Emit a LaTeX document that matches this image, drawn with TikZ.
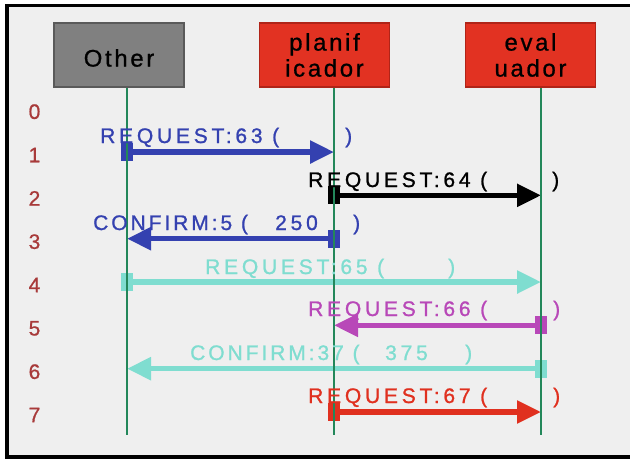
\documentclass[tikz,border=0pt]{standalone}
\usepackage{fontspec}
\setmainfont{Liberation Sans}
\usetikzlibrary{arrows.meta}

\definecolor{panelbg}{HTML}{EFEFEF}
\definecolor{lifegreen}{HTML}{23875A}
\definecolor{msgblue}{HTML}{3441B0}
\definecolor{msgcyan}{HTML}{7FDDD0}
\definecolor{msgpurple}{HTML}{B848B8}
\definecolor{msgred}{HTML}{E0301F}
\definecolor{boxred}{HTML}{E23222}
\definecolor{boxredline}{HTML}{B02418}
\definecolor{boxgray}{HTML}{808080}
\definecolor{boxgrayline}{HTML}{5A5A5A}
\definecolor{rowred}{HTML}{A83A3A}

\begin{document}
\begin{tikzpicture}[x=1pt,y=-1pt,
  agent/.style={minimum width=130pt, minimum height=64pt, inner sep=0pt,
    line width=1.5pt, align=center,
    font=\fontsize{24}{26}\selectfont\addfontfeature{LetterSpace=11,FakeBold=0.8}},
  lifeline/.style={lifegreen, line width=2pt},
  msg/.style={line width=5.5pt, -{Triangle[length=24pt,width=22pt]}},
  startsq/.style={minimum width=12pt, minimum height=18pt, inner sep=0pt, draw=none},
  msgtext/.style={anchor=base west, inner sep=0pt,
    font=\fontsize{21}{21}\selectfont\addfontfeature{LetterSpace=18,FakeBold=1}},
  conftext/.style={anchor=base west, inner sep=0pt,
    font=\fontsize{21}{21}\selectfont\addfontfeature{LetterSpace=14,FakeBold=1}},
  rownum/.style={text=rowred, inner sep=0pt,
    font=\fontsize{21}{21}\selectfont\addfontfeature{FakeBold=0.8}}]

% canvas and frame
\useasboundingbox (0,0) rectangle (630,460);
\fill[white] (0,0) rectangle (630,460);
\fill[panelbg] (7,5.5) rectangle (640,457);
\draw[line width=3.5pt] (640,5.5) -- (7,5.5) -- (7,457) -- (640,457);

% agents
\node[agent, fill=boxgray, draw=boxgrayline] (other) at (119,55)
  {\raisebox{-3pt}[\height][\depth]{Other}};
\node[agent, fill=boxred, draw=boxredline] (planif) at (324.5,55) {planif\\icador};
\node[agent, fill=boxred, draw=boxredline] (eval) at (530.5,55) {eval\\uador};

% lifeline anchors, one per time step
\coordinate (Otop) at (127,88);  \coordinate (Obot) at (127,435);
\coordinate (Ptop) at (334,88);  \coordinate (Pbot) at (334,435);
\coordinate (Etop) at (541,88);  \coordinate (Ebot) at (541,435);
\foreach \k in {1,...,7} {
  \pgfmathsetmacro\yy{108.7+43.33*\k}
  \coordinate (O\k) at (127,\yy);
  \coordinate (P\k) at (334,\yy);
  \coordinate (E\k) at (541,\yy);
}

% time steps
\foreach \k in {0,...,7} {
  \pgfmathsetmacro\yy{111.7+43.33*\k}
  \node[rownum] (row\k) at (34.5,\yy) {\k};
}

% messages
\draw[msg, msgblue] (O1) -- (P1);
\node[startsq, fill=msgblue] (s1) at (O1) {};
\draw[msg, black] (P2) -- (E2);
\node[startsq, fill=black] (s2) at (P2) {};
\draw[msg, msgblue] (P3) -- (O3);
\node[startsq, fill=msgblue] (s3) at (P3) {};
\draw[msg, msgcyan] (O4) -- (E4);
\node[startsq, fill=msgcyan] (s4) at (O4) {};
\draw[msg, msgpurple] (E5) -- (P5);
\node[startsq, fill=msgpurple] (s5) at (E5) {};
\draw[msg, msgcyan] (E6) -- (O6);
\node[startsq, fill=msgcyan] (s6) at (E6) {};
\draw[msg, msgred] (P7) -- (E7);
\node[startsq, fill=msgred] (s7) at (P7) {};

% lifelines over the messages
\draw[lifeline] (Otop) -- (Obot);
\draw[lifeline] (Ptop) -- (Pbot);
\draw[lifeline] (Etop) -- (Ebot);

% message labels
\node[msgtext, text=msgblue] (l1) at (100,143) {REQUEST:63 (};
\node[msgtext, text=msgblue] (l1c) at (345,143) {)};
\node[msgtext, text=black] (l2) at (308,187) {REQUEST:64 (};
\node[msgtext, text=black] (l2c) at (552,187) {)};
\node[conftext, text=msgblue] (l3) at (93,230) {CONFIRM:5 (};
\node[msgtext, text=msgblue] (l3v) at (275,230) {250};
\node[msgtext, text=msgblue] (l3c) at (353,230) {)};
\node[msgtext, text=msgcyan] (l4) at (205,274) {REQUEST:65 (};
\node[msgtext, text=msgcyan] (l4c) at (448,274) {)};
\node[msgtext, text=msgpurple] (l5) at (308,316) {REQUEST:66 (};
\node[msgtext, text=msgpurple] (l5c) at (553,316) {)};
\node[conftext, text=msgcyan] (l6) at (190,360) {CONFIRM:37 (};
\node[msgtext, text=msgcyan] (l6v) at (385,360) {375};
\node[msgtext, text=msgcyan] (l6c) at (465,360) {)};
\node[msgtext, text=msgred] (l7) at (308,403) {REQUEST:67 (};
\node[msgtext, text=msgred] (l7c) at (553,403) {)};
\end{tikzpicture}
\end{document}
